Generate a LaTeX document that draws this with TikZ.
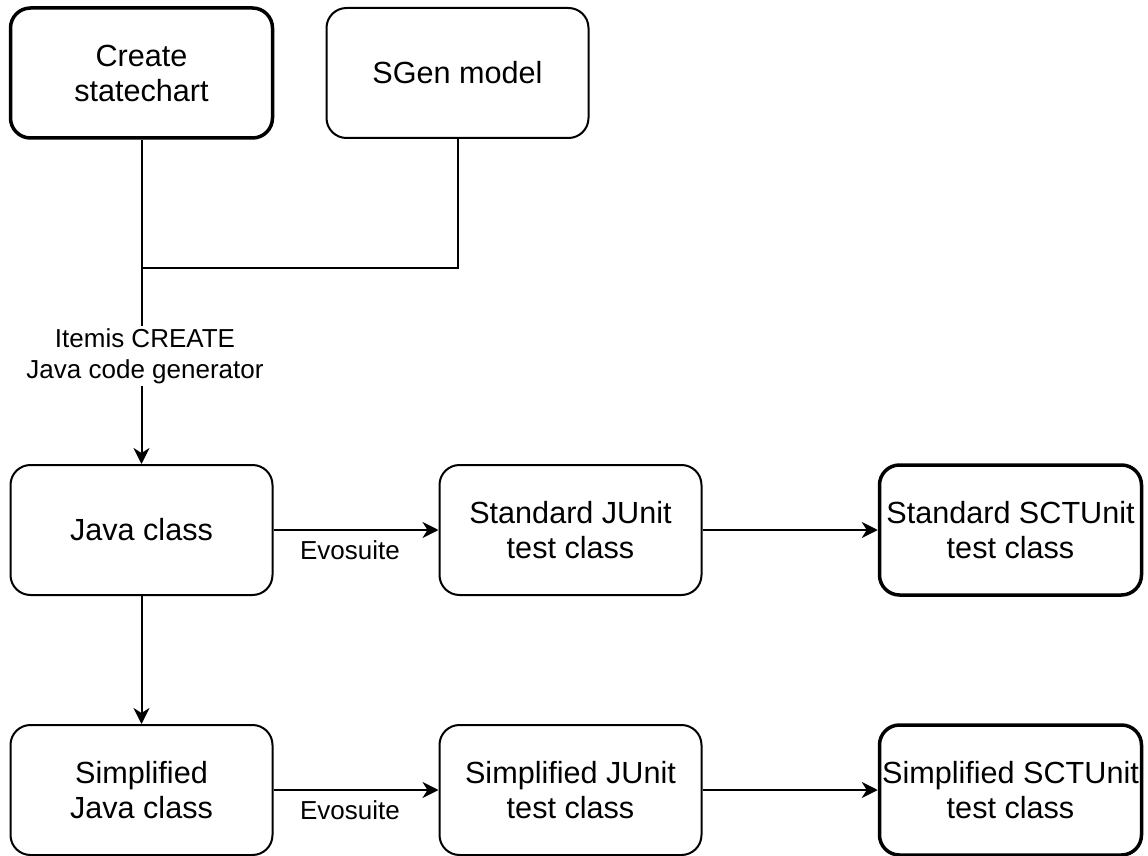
\documentclass[tikz,border=0pt]{standalone}
\usepackage{fontspec}
\setmainfont{Liberation Sans}
\usetikzlibrary{arrows.meta,positioning}

\begin{document}
\begin{tikzpicture}[x=0.5pt,y=-0.5pt,>={Stealth[length=8pt,width=8pt,inset=2.5pt]},
    box/.style={draw,rounded corners=10pt,line width=1pt,minimum width=131pt,
      minimum height=65pt,align=center,inner sep=0pt,font=\fontsize{15.3}{17.5}\selectfont},
    endbox/.style={box,line width=1.75pt},
    lbl/.style={fill=white,inner sep=1pt,align=center,font=\fontsize{13}{15.5}\selectfont},
    conn/.style={line width=1pt}]
  \useasboundingbox (0,0) rectangle (1148,856);
  \node[endbox] (create) at (141.5,73) {Create\\statechart};
  \node[box] (sgen) at (457.5,73) {SGen model};
  \node[box] (java) at (141.5,530) {Java class};
  \node[box] (stdjunit) at (570.5,530) {Standard JUnit\\test class};
  \node[endbox] (stdsct) at (1010.5,530) {Standard SCTUnit\\test class};
  \node[box] (simjava) at (141.5,790) {Simplified\\Java class};
  \node[box] (simjunit) at (570.5,790) {Simplified JUnit\\test class};
  \node[endbox] (simsct) at (1010.5,790) {Simplified SCTUnit\\test class};
  \coordinate (join) at (141.5,268);
  \draw[conn,->] (create) -- (java);
  \draw[conn] (sgen) |- (join);
  \node[lbl] (gen) at (145,356) {Itemis CREATE\\Java code generator};
  \draw[conn,->] (java) -- node[lbl,below=4pt,xshift=-3pt]{Evosuite} (stdjunit);
  \draw[conn,->] (stdjunit) -- (stdsct);
  \draw[conn,->] (java) -- (simjava);
  \draw[conn,->] (simjava) -- node[lbl,below=4pt,xshift=-3pt]{Evosuite} (simjunit);
  \draw[conn,->] (simjunit) -- (simsct);
\end{tikzpicture}
\end{document}
